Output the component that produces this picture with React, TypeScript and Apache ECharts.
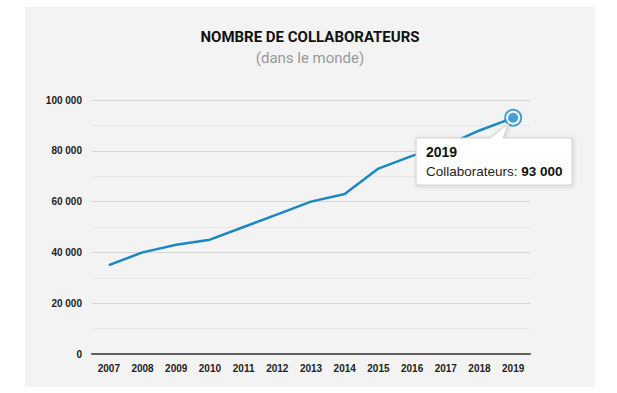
import React, { useEffect, useRef } from "react";
import * as echarts from "echarts";

const years = ["2007", "2008", "2009", "2010", "2011", "2012", "2013", "2014", "2015", "2016", "2017", "2018", "2019"];
const collaborateurs = [35000, 40000, 43000, 45000, 50000, 55000, 60000, 63000, 73000, 78000, 82000, 88000, 93000];
const titleText = "NOMBRE DE COLLABORATEURS";
const subtitleText = "(dans le monde)";
const seriesName = "Collaborateurs";

const BLUE = "#1b87c3";

function fmt(v: number): string {
  const s = String(Math.round(v));
  return s.replace(/\B(?=(\d{3})+(?!\d))/g, " ");
}

export default function App() {
  const ref = useRef<HTMLDivElement>(null);
  useEffect(() => {
    if (!ref.current) return;
    const chart = echarts.init(ref.current, undefined, { renderer: "svg" });
    const lastIdx = collaborateurs.length - 1;
    chart.setOption({
      animation: false,
      backgroundColor: "#ffffff",
      grid: { left: 92, top: 100, width: 438, height: 254, containLabel: false },
      xAxis: {
        type: "category",
        data: years,
        boundaryGap: true,
        axisLine: { show: true, lineStyle: { color: "#606060", width: 2 } },
        axisTick: { show: false },
        axisLabel: {
          color: "#222",
          fontSize: 10,
          fontWeight: "bold",
          fontFamily: "Liberation Sans, Arial, sans-serif",
          margin: 9,
        },
      },
      yAxis: {
        type: "value",
        min: 0,
        max: 100000,
        interval: 20000,
        axisLine: { show: false },
        axisTick: { show: false },
        axisLabel: {
          color: "#222",
          fontSize: 10,
          fontWeight: "bold",
          fontFamily: "Liberation Sans, Arial, sans-serif",
          margin: 10,
          formatter: (v: number) => fmt(v),
        },
        splitLine: { show: true, lineStyle: { color: "#d6d6d6", width: 1 } },
        minorTick: { show: false, splitNumber: 2 },
        minorSplitLine: { show: true, lineStyle: { color: "#e8e8e8", width: 1 } },
      },
      series: [
        {
          type: "line",
          name: seriesName,
          data: collaborateurs,
          symbol: "none",
          lineStyle: { color: BLUE, width: 2.5 },
          z: 3,
        },
        {
          type: "scatter",
          data: [[years[lastIdx], collaborateurs[lastIdx]]],
          symbol: "circle",
          symbolSize: 16,
          itemStyle: { color: "#ffffff", borderColor: BLUE, borderWidth: 2 },
          z: 4,
        },
        {
          type: "scatter",
          data: [[years[lastIdx], collaborateurs[lastIdx]]],
          symbol: "circle",
          symbolSize: 10,
          itemStyle: { color: BLUE },
          z: 5,
        },
      ],
      graphic: [
        {
          type: "rect",
          z: -100,
          silent: true,
          shape: { x: 25, y: 7, width: 570, height: 380 },
          style: { fill: "#f3f3f3" },
        },
        {
          type: "text",
          x: 310,
          y: 37,
          style: {
            text: titleText,
            fill: "#111",
            font: "bold 15px Roboto, sans-serif",
            textAlign: "center",
            textVerticalAlign: "middle",
          },
        },
        {
          type: "text",
          x: 310,
          y: 58,
          style: {
            text: subtitleText,
            fill: "#999",
            font: "15px Roboto, sans-serif",
            textAlign: "center",
            textVerticalAlign: "middle",
          },
        },
        {
          type: "polygon",
          z: 100,
          shape: {
            points: [
              [416, 138],
              [490, 138],
              [509, 123],
              [503, 138],
              [572, 138],
              [572, 185],
              [416, 185],
            ],
          },
          style: {
            fill: "#ffffff",
            stroke: "#d0d0d0",
            lineWidth: 1,
            shadowBlur: 4,
            shadowOffsetX: 1,
            shadowOffsetY: 1,
            shadowColor: "rgba(0,0,0,0.15)",
          },
        },
        {
          type: "text",
          z: 101,
          x: 426,
          y: 152,
          style: {
            text: years[lastIdx],
            fill: "#111",
            font: "bold 14px Liberation Sans, Arial, sans-serif",
            textVerticalAlign: "middle",
          },
        },
        {
          type: "text",
          z: 101,
          x: 426,
          y: 171,
          style: {
            text: "{n|" + seriesName + ": }{b|" + fmt(collaborateurs[lastIdx]) + "}",
            textVerticalAlign: "middle",
            rich: {
              n: { fill: "#222", font: "13.5px Liberation Sans, Arial, sans-serif" },
              b: { fill: "#111", font: "bold 13.5px Liberation Sans, Arial, sans-serif" },
            },
          },
        },
      ],
    });
    return () => chart.dispose();
  }, []);
  return (
    <div
      ref={ref}
      style={{ position: "absolute", left: 0, top: 0, width: 617, height: 393 }}
    />
  );
}
